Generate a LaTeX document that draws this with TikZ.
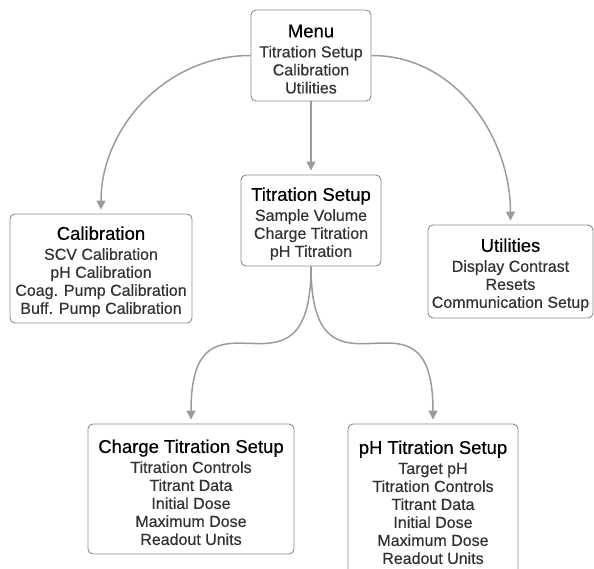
\documentclass[tikz,border=0pt]{standalone}
\usepackage{fontspec}
\setmainfont{Liberation Sans}[FakeBold=0.4]
\usetikzlibrary{arrows.meta}
\definecolor{linegray}{RGB}{155,155,155}
\definecolor{boxgray}{RGB}{140,140,140}
\definecolor{itemgray}{RGB}{50,50,50}
\newcommand{\boxtitle}[1]{{\fontsize{18.5}{20}\selectfont\color{black}\rule{0pt}{20pt}#1}\\[2pt]}

\begin{document}
\begin{tikzpicture}[x=1pt, y=-1pt,
									box/.style = {draw=boxgray, line width=0.9pt, rounded corners=5pt, fill=white, align=center, inner sep=2pt, font=\fontsize{16}{18}\selectfont, text=itemgray},
									link/.style = {draw=linegray, line width=1.5pt, -{Triangle[width=9pt,length=9pt]}, shorten >=4pt}]
					\useasboundingbox (0,0) rectangle (594,569);
					\clip (0,0) rectangle (594,569);

					\node[box, minimum width=120pt, minimum height=91pt] (menu) at (311, 55.5) {\boxtitle{Menu}Titration Setup\\Calibration\\Utilities};
					\node[box, minimum width=182pt, minimum height=109pt] (calib) at (101, 268.5) {\boxtitle{Calibration}SCV Calibration\\pH Calibration\\Coag. Pump Calibration\\Buff. Pump Calibration};
					\node[box, minimum width=140pt, minimum height=91pt] (setup) at (311, 220.5) {\boxtitle{Titration Setup}Sample Volume\\Charge Titration\\pH Titration};
					\node[box, minimum width=165pt, minimum height=93pt] (util) at (510.5, 271.5) {\boxtitle{Utilities}Display Contrast\\Resets\\Communication Setup};
					\node[box, minimum width=206pt, minimum height=130pt] (charge) at (191, 489) {\boxtitle{Charge Titration Setup}Titration Controls\\Titrant Data\\Initial Dose\\Maximum Dose\\Readout Units};
					\node[box, minimum width=170pt, minimum height=150pt] (ph) at (433, 499) {\boxtitle{pH Titration Setup}Target pH\\Titration Controls\\Titrant Data\\Initial Dose\\Maximum Dose\\Readout Units};

					\draw[link] (menu.west) to[out=180, in=90] (calib.north);
					\draw[link] (menu.south) to (setup.north);
					\draw[link] (menu.east) to[out=0, in=90] (util.north);

					\draw[link] (setup.south) to[out=-90, in=90, looseness=2] (charge.north);
					\draw[link] (setup.south) to[out=-90, in=90, looseness=2] (ph.north);
				\end{tikzpicture}
\end{document}
